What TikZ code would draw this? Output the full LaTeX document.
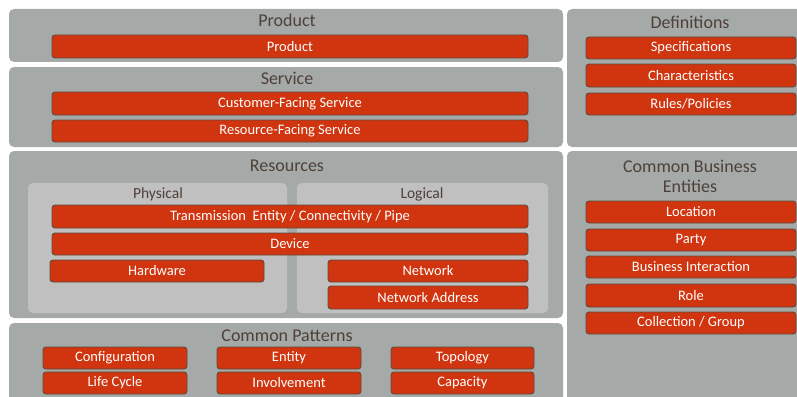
\documentclass[tikz,border=0pt]{standalone}
\usepackage{fontspec}
\setmainfont{Carlito}
\definecolor{pgray}{HTML}{A5AAA8}
\definecolor{lgray}{HTML}{C0C0C0}
\definecolor{ored}{HTML}{D0350F}
\definecolor{oedge}{HTML}{5E4A3E}
\definecolor{ttext}{HTML}{4E4039}
\tikzset{
  panel/.style={fill=pgray, rounded corners=5pt, draw=none, inner sep=0pt},
  subpanel/.style={fill=lgray, rounded corners=5pt, draw=none, inner sep=0pt},
  rb/.style={fill=ored, draw=oedge, line width=0.9pt, rounded corners=3pt, inner sep=0pt, text=white, font=\fontsize{14.5}{16}\selectfont},
  ttl/.style={text=ttext, font=\fontsize{18}{20}\selectfont, inner sep=0pt, align=center},
  sttl/.style={text=ttext, font=\fontsize{15.5}{17}\selectfont, inner sep=0pt},
}
\newcommand\rbx[7][rb]{\node[#1, minimum width={(#5-#3)*1pt}, minimum height={(#6-#4)*1pt}] (#2) at ({(#3+#5)/2},{(#4+#6)/2}) {#7};}
\begin{document}
\begin{tikzpicture}[x=1pt,y=-1pt]
\useasboundingbox (0,0) rectangle (797,396);
\clip (0,0) rectangle (797,396);
\fill[white] (0,0) rectangle (797,396);
% panels
\rbx[panel]{pProd}{9}{9}{563}{62}{}
\rbx[panel]{pServ}{9}{67}{563}{147}{}
\rbx[panel]{pDef}{567}{9}{830}{147}{}
\rbx[panel]{pRes}{9}{151}{563}{318}{}
\rbx[panel]{pCBE}{567}{151}{830}{430}{}
\rbx[panel]{pCP}{9}{323}{563}{430}{}
\rbx[subpanel]{pPhys}{28}{183}{287}{313}{}
\rbx[subpanel]{pLog}{297}{183}{548}{313}{}
% titles
\node[ttl] (tProd) at (287,20.5) {Product};
\node[ttl] (tServ) at (287,78.5) {Service};
\node[ttl] (tDef) at (690,22.5) {Definitions};
\node[ttl] (tCBE) at (690,176.5) {Common Business\\Entities};
\node[ttl] (tRes) at (287,166) {Resources};
\node[ttl] (tCP) at (287,335.5) {Common Patterns};
\node[sttl] (tPhys) at (158,194) {Physical};
\node[sttl] (tLog) at (422,194) {Logical};
% red boxes
\rbx{bProd}{52}{35}{528}{58}{Product}
\rbx{bCFS}{52}{92}{528}{115}{Customer-Facing Service}
\rbx{bRFS}{52}{120}{528}{142}{Resource-Facing Service}
\rbx{bSpec}{586}{37}{796}{59}{Specifications}
\rbx{bChar}{586}{64}{796}{87}{Characteristics}
\rbx{bRule}{586}{93}{796}{115}{Rules/Policies}
\rbx{bTrans}{52}{205}{528}{228}{Transmission\ \ Entity / Connectivity / Pipe}
\rbx{bDev}{52}{233}{528}{255}{Device}
\rbx{bHW}{50}{260}{264}{282}{Hardware}
\rbx{bNet}{328}{260}{528}{282}{Network}
\rbx{bNA}{328}{286}{528}{309}{Network Address}
\rbx{bLoc}{586}{201}{796}{223}{Location}
\rbx{bParty}{586}{229}{796}{251}{Party}
\rbx{bBI}{586}{256}{796}{278}{Business Interaction}
\rbx{bRole}{586}{284}{796}{307}{Role}
\rbx{bColl}{586}{312}{796}{334}{Collection / Group}
\rbx{bConf}{43}{347}{187}{369}{Configuration}
\rbx{bLife}{43}{372}{187}{394}{Life Cycle}
\rbx{bEnt}{217}{347}{361}{369}{Entity}
\rbx{bInv}{217}{372}{361}{394}{Involvement}
\rbx{bTopo}{391}{347}{534}{369}{Topology}
\rbx{bCap}{391}{372}{534}{394}{Capacity}
\end{tikzpicture}
\end{document}
